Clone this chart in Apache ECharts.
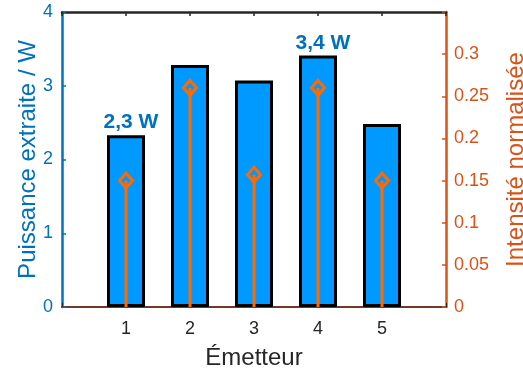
<!DOCTYPE html>
<html><head><meta charset="utf-8">
<script src="https://cdn.jsdelivr.net/npm/echarts@6/dist/echarts.min.js"></script>
<style>html,body{margin:0;padding:0;background:#fff}#c{width:523px;height:368px}</style>
</head><body><div id="c"></div>
<script>
const emitters = [1, 2, 3, 4, 5];
const power = [2.33, 3.28, 3.07, 3.41, 2.48];
const intensity = [0.15, 0.26, 0.157, 0.26, 0.15];
const powerLabels = ['2,3 W', '', '', '3,4 W', ''];
const leftTicks = [0, 1, 2, 3, 4];
const rightTicks = [0, 0.05, 0.1, 0.15, 0.2, 0.25, 0.3];

const FONT = 'Liberation Sans, Arial, sans-serif';
const BLUE = '#0072BD', ORANGE = '#D95319', STEM = '#FF6A00';

const chart = echarts.init(document.getElementById('c'), null, {renderer: 'canvas'});
chart.setOption({
  animation: false,
  textStyle: {fontFamily: FONT},
  grid: {left: 62, right: 77, top: 12, bottom: 61, containLabel: false, outerBoundsMode: 'none'},
  xAxis: [{
    type: 'value', min: 0, max: 6, interval: 1, position: 'bottom',
    name: 'Émetteur', nameLocation: 'middle', nameGap: 39, nameMoveOverlap: false,
    nameTextStyle: {fontSize: 24, color: '#262626', fontFamily: FONT},
    axisLine: {show: true, onZero: false, lineStyle: {color: '#6e3b28', width: 2}},
    axisTick: {show: true, inside: true, length: 4, lineStyle: {color: '#262626'}},
    axisLabel: {fontSize: 18, color: '#262626', margin: 13, fontFamily: FONT,
      formatter: v => emitters.includes(v) ? String(v) : ''},
    splitLine: {show: false}
  }, {
    type: 'value', min: 0, max: 6, interval: 1, position: 'top',
    axisLine: {show: true, onZero: false, lineStyle: {color: '#262626', width: 2.5}},
    axisTick: {show: true, inside: true, length: 4, lineStyle: {color: '#262626', width: 1.5}},
    axisLabel: {show: false}, splitLine: {show: false}
  }],
  yAxis: [{
    type: 'value', min: 0, max: 4, interval: 1, position: 'left',
    name: 'Puissance extraite / W', nameLocation: 'middle', nameGap: 22, nameMoveOverlap: false,
    nameTextStyle: {fontSize: 24, color: BLUE, fontFamily: FONT},
    axisLine: {show: true, onZero: false, lineStyle: {color: BLUE, width: 2.5}},
    axisTick: {show: true, inside: true, length: 4, lineStyle: {color: BLUE, width: 1.5}},
    axisLabel: {fontSize: 18, color: BLUE, margin: 9, fontFamily: FONT,
      formatter: v => leftTicks.includes(v) ? String(v) : ''},
    splitLine: {show: false}
  }, {
    type: 'value', min: 0, max: 0.35, interval: 0.05, position: 'right',
    name: 'Intensité normalisée', nameLocation: 'middle', nameGap: 58, nameMoveOverlap: false,
    nameTextStyle: {fontSize: 24, color: ORANGE, fontFamily: FONT},
    axisLine: {show: true, onZero: false, lineStyle: {color: ORANGE, width: 2.5}},
    axisTick: {show: true, inside: true, length: 4, lineStyle: {color: ORANGE, width: 1.5}},
    axisLabel: {fontSize: 18, color: ORANGE, margin: 8, fontFamily: FONT,
      formatter: v => {
        const r = Math.round(v * 100) / 100;
        return rightTicks.some(t => Math.abs(t - r) < 1e-9) ? String(r) : '';
      }},
    splitLine: {show: false}
  }],
  series: [{
    type: 'bar', xAxisIndex: 0, yAxisIndex: 0,
    data: emitters.map((e, i) => [e, power[i]]),
    barWidth: 38,
    itemStyle: {color: '#0099FF', borderColor: '#000', borderWidth: 3},
    label: {show: true, position: 'top', distance: 2, offset: [5, 0],
      fontSize: 21, fontWeight: 'bold', color: BLUE, fontFamily: FONT,
      formatter: p => powerLabels[p.dataIndex]},
    z: 2
  }, {
    type: 'custom', xAxisIndex: 0, yAxisIndex: 1,
    data: emitters.map((e, i) => [e, intensity[i]]),
    renderItem: (params, api) => {
      const p0 = api.coord([api.value(0), 0]);
      const p1 = api.coord([api.value(0), api.value(1)]);
      return {type: 'line', shape: {x1: p0[0], y1: p0[1], x2: p1[0], y2: p1[1]},
        style: {stroke: STEM, lineWidth: 3}};
    },
    z: 3
  }, {
    type: 'scatter', xAxisIndex: 0, yAxisIndex: 1,
    data: emitters.map((e, i) => [e, intensity[i]]),
    symbol: 'diamond', symbolSize: [13, 15],
    itemStyle: {color: 'rgba(0,0,0,0)', borderColor: STEM, borderWidth: 3, opacity: 1},
    z: 4
  }]
});
</script></body></html>
